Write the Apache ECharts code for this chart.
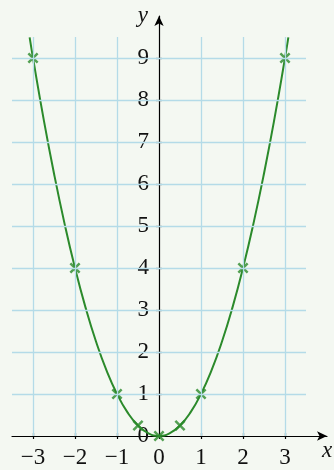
<!DOCTYPE html>
<html>
<head>
<meta charset="utf-8">
<script src="https://cdn.jsdelivr.net/npm/echarts@6/dist/echarts.min.js"></script>
<style>
  html, body { margin: 0; padding: 0; background: #f4f8f2; }
  #chart { width: 334px; height: 470px; }
</style>
</head>
<body>
<div id="chart"></div>
<script>
// Curve y = x² sampled along x
const curveX = [-3.08, -3, -2.75, -2.5, -2.25, -2, -1.75, -1.5, -1.25, -1, -0.75, -0.5, -0.25, 0,
                0.25, 0.5, 0.75, 1, 1.25, 1.5, 1.75, 2, 2.25, 2.5, 2.75, 3, 3.08];
const curveY = [9.49, 9, 7.5625, 6.25, 5.0625, 4, 3.0625, 2.25, 1.5625, 1, 0.5625, 0.25, 0.0625, 0,
                0.0625, 0.25, 0.5625, 1, 1.5625, 2.25, 3.0625, 4, 5.0625, 6.25, 7.5625, 9, 9.49];

// Marked points
const pointX = [-3, -2, -1, -0.5, 0, 0.5, 1, 2, 3];
const pointY = [9, 4, 1, 0.25, 0, 0.25, 1, 4, 9];

// Tick labels
const xTicks = [-3, -2, -1, 0, 1, 2, 3];
const yTicks = [0, 1, 2, 3, 4, 5, 6, 7, 8, 9];

// Grid lines
const gridX = [-3, -2, -1, 1, 2, 3];
const gridY = [1, 2, 3, 4, 5, 6, 7, 8, 9];
const gridXRange = [-3.5, 3.5];
const gridYRange = [0, 9.5];

// Axis extents (arrow tips at the max ends)
const X_MIN = -3.5, X_MAX = 4;
const Y_MIN = 0, Y_MAX = 10;

const GRID = { left: 12, top: 16, width: 315, height: 420 };
// The vertical axis sits at x = 0: shift it inward from the grid's left edge
const yAxisOffset = -(0 - X_MIN) / (X_MAX - X_MIN) * GRID.width;

const GREEN = '#2b8a2b';
const GRID_BLUE = '#b4dbe8';
const FONT = 'Liberation Serif';
const LABEL_SIZE = 23;

const crossPath = 'path://M0,1.6 L1.6,0 L5,3.4 L8.4,0 L10,1.6 L6.6,5 L10,8.4 L8.4,10 L5,6.6 L1.6,10 L0,8.4 L3.4,5 Z';

const gridLines = [];
gridX.forEach(x => gridLines.push([{ coord: [x, gridYRange[0]] }, { coord: [x, gridYRange[1]] }]));
gridY.forEach(y => gridLines.push([{ coord: [gridXRange[0], y] }, { coord: [gridXRange[1], y] }]));

const minus = v => String(v).replace('-', '\u2212');

const axisLineStyle = { color: '#000', width: 1.2 };

const chart = echarts.init(document.getElementById('chart'), null, { renderer: 'canvas' });
chart.setOption({
  backgroundColor: '#f4f8f2',
  animation: false,
  grid: Object.assign({ containLabel: false, outerBoundsMode: 'none' }, GRID),
  xAxis: [
    {
      type: 'value', min: X_MIN, max: X_MAX, position: 'bottom',
      axisLine: { show: true, onZero: false, symbol: ['none', 'arrow'], symbolSize: [7, 10], lineStyle: axisLineStyle },
      axisTick: { show: true, length: 3, inside: false, customValues: xTicks, lineStyle: axisLineStyle },
      axisLabel: { show: true, customValues: xTicks, margin: 10, formatter: minus,
                   fontFamily: FONT, fontSize: LABEL_SIZE, color: '#111' },
      splitLine: { show: false },
      name: 'x', nameLocation: 'end', nameGap: 0,
      nameTextStyle: { fontFamily: FONT, fontStyle: 'italic', fontSize: 23, color: '#111',
                       align: 'center', verticalAlign: 'top', padding: [3, 0, 0, 0] }
    },
    {
      type: 'value', min: X_MIN, max: X_MAX, position: 'bottom',
      axisLine: { show: false, onZero: false },
      axisTick: { show: true, length: 3, inside: true, customValues: xTicks, lineStyle: axisLineStyle },
      axisLabel: { show: false },
      splitLine: { show: false }
    }
  ],
  yAxis: [
    {
      type: 'value', min: Y_MIN, max: Y_MAX, position: 'left', offset: yAxisOffset,
      axisLine: { show: true, onZero: false, symbol: ['none', 'arrow'], symbolSize: [7, 10], lineStyle: axisLineStyle },
      axisTick: { show: true, length: 3, inside: false, customValues: yTicks, lineStyle: axisLineStyle },
      axisLabel: { show: true, customValues: yTicks, margin: 10,
                   fontFamily: FONT, fontSize: LABEL_SIZE, color: '#111' },
      splitLine: { show: false },
      name: 'y', nameLocation: 'end', nameGap: 0,
      nameTextStyle: { fontFamily: FONT, fontStyle: 'italic', fontSize: 23, color: '#111',
                       align: 'right', verticalAlign: 'middle', padding: [0, 11, 8, 0] }
    },
    {
      type: 'value', min: Y_MIN, max: Y_MAX, position: 'left', offset: yAxisOffset,
      axisLine: { show: false, onZero: false },
      axisTick: { show: true, length: 3, inside: true, customValues: yTicks, lineStyle: axisLineStyle },
      axisLabel: { show: false },
      splitLine: { show: false }
    }
  ],
  series: [
    {
      name: 'grid',
      type: 'line',
      xAxisIndex: 0, yAxisIndex: 0,
      data: [],
      silent: true,
      z: 0,
      markLine: {
        silent: true,
        symbol: ['none', 'none'],
        label: { show: false },
        lineStyle: { color: GRID_BLUE, width: 1.3, type: 'solid' },
        animation: false,
        data: gridLines
      }
    },
    {
      name: 'curve',
      type: 'line',
      xAxisIndex: 0, yAxisIndex: 0,
      data: curveX.map((x, i) => [x, curveY[i]]),
      smooth: true,
      showSymbol: false,
      symbol: 'none',
      lineStyle: { color: GREEN, width: 2 },
      z: 3
    },
    {
      name: 'points',
      type: 'scatter',
      xAxisIndex: 0, yAxisIndex: 0,
      data: pointX.map((x, i) => [x, pointY[i]]),
      symbol: crossPath,
      symbolSize: 11,
      itemStyle: { color: GREEN },
      z: 4
    }
  ]
});
</script>
</body>
</html>
